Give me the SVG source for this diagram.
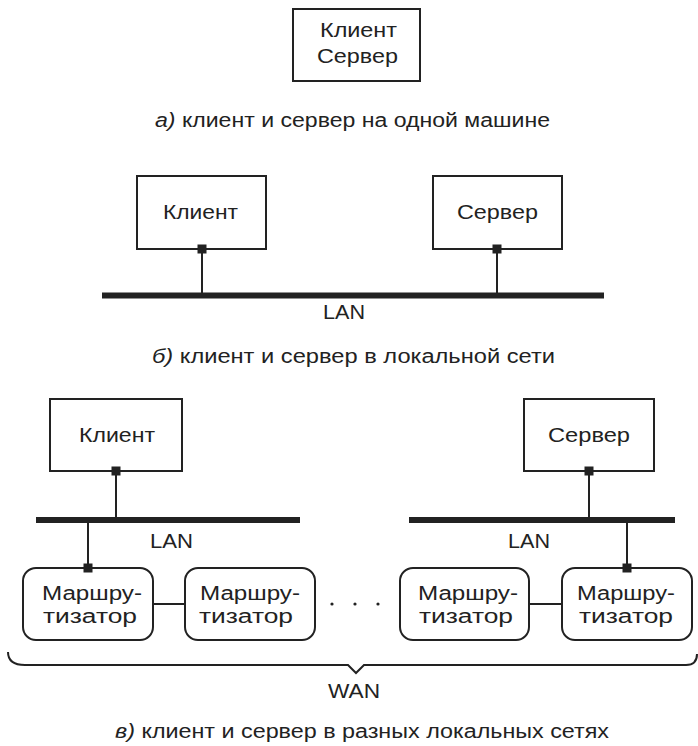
<svg xmlns="http://www.w3.org/2000/svg" width="698" height="746" viewBox="0 0 698 746">
<style>
text{font-family:"Liberation Sans",Arial,sans-serif;font-size:20px;fill:#222}
.it{font-style:italic}
.box{fill:#fff;stroke:#222;stroke-width:2}
.rt{fill:#fff;stroke:#222;stroke-width:2}
.ln{stroke:#222;stroke-width:2;fill:none}
.bus{stroke:#222;stroke-width:6;fill:none}
.pt{fill:#222}
</style>
<rect width="698" height="746" fill="#fff"/>
<!-- a -->
<g id="a-host">
<rect class="box" x="293" y="9" width="127" height="72"/>
<text x="320" y="37" textLength="77" lengthAdjust="spacingAndGlyphs">Клиент</text>
<text x="317" y="63" textLength="81" lengthAdjust="spacingAndGlyphs">Сервер</text>
</g>
<text x="155" y="126.5" textLength="395" lengthAdjust="spacingAndGlyphs"><tspan class="it">а)</tspan> клиент и сервер на одной машине</text>
<!-- b -->
<g id="b-client">
<rect class="box" x="137" y="176" width="129" height="73"/>
<text x="163" y="219" textLength="75" lengthAdjust="spacingAndGlyphs">Клиент</text>
</g>
<g id="b-server">
<rect class="box" x="433" y="176" width="129" height="73"/>
<text x="457" y="219" textLength="81" lengthAdjust="spacingAndGlyphs">Сервер</text>
</g>
<g id="b-lan">
<line class="bus" x1="102" y1="295.5" x2="604" y2="295.5"/>
<text x="323" y="319" textLength="42" lengthAdjust="spacingAndGlyphs">LAN</text>
</g>
<g id="b-connectors">
<line class="ln" x1="202" y1="249" x2="202" y2="295"/>
<line class="ln" x1="497" y1="249" x2="497" y2="295"/>
<rect class="pt" x="197.5" y="244.5" width="9" height="9"/>
<rect class="pt" x="492.5" y="244.5" width="9" height="9"/>
</g>
<text x="152" y="363" textLength="403" lengthAdjust="spacingAndGlyphs"><tspan class="it">б)</tspan> клиент и сервер в локальной сети</text>
<!-- c -->
<g id="c-client">
<rect class="box" x="50" y="399" width="132" height="72"/>
<text x="79" y="442" textLength="76" lengthAdjust="spacingAndGlyphs">Клиент</text>
</g>
<g id="c-server">
<rect class="box" x="524" y="399" width="130" height="72"/>
<text x="548" y="442" textLength="82" lengthAdjust="spacingAndGlyphs">Сервер</text>
</g>
<g id="c-lan1">
<line class="bus" x1="36" y1="520" x2="300" y2="520"/>
<text x="150" y="548" textLength="43" lengthAdjust="spacingAndGlyphs">LAN</text>
</g>
<g id="c-lan2">
<line class="bus" x1="409" y1="520" x2="675" y2="520"/>
<text x="508" y="548" textLength="42" lengthAdjust="spacingAndGlyphs">LAN</text>
</g>
<g id="router1">
<rect class="rt" x="23" y="568" width="130" height="72" rx="13"/>
<text x="42" y="600" textLength="100" lengthAdjust="spacingAndGlyphs">Маршру-</text>
<text x="43" y="623" textLength="94" lengthAdjust="spacingAndGlyphs">тизатор</text>
</g>
<g id="router2">
<rect class="rt" x="185" y="568" width="130" height="72" rx="13"/>
<text x="200" y="600" textLength="100" lengthAdjust="spacingAndGlyphs">Маршру-</text>
<text x="199" y="623" textLength="94" lengthAdjust="spacingAndGlyphs">тизатор</text>
</g>
<g id="router3">
<rect class="rt" x="400" y="568" width="129" height="72" rx="13"/>
<text x="418" y="600" textLength="100" lengthAdjust="spacingAndGlyphs">Маршру-</text>
<text x="419" y="623" textLength="94" lengthAdjust="spacingAndGlyphs">тизатор</text>
</g>
<g id="router4">
<rect class="rt" x="562" y="568" width="130" height="72" rx="13"/>
<text x="577" y="600" textLength="98" lengthAdjust="spacingAndGlyphs">Маршру-</text>
<text x="579" y="623" textLength="94" lengthAdjust="spacingAndGlyphs">тизатор</text>
</g>
<g id="c-connectors">
<line class="ln" x1="116" y1="471" x2="116" y2="520"/>
<line class="ln" x1="88" y1="520" x2="88" y2="568"/>
<line class="ln" x1="589" y1="471" x2="589" y2="520"/>
<line class="ln" x1="627" y1="520" x2="627" y2="568"/>
<line class="ln" x1="153" y1="604" x2="185" y2="604"/>
<line class="ln" x1="529" y1="604" x2="562" y2="604"/>
<rect class="pt" x="111.5" y="466.5" width="9" height="9"/>
<rect class="pt" x="83.5" y="563.5" width="9" height="9"/>
<rect class="pt" x="584.5" y="466.5" width="9" height="9"/>
<rect class="pt" x="622.5" y="563.5" width="9" height="9"/>
</g>
<g id="dots">
<circle class="pt" cx="332" cy="604" r="1.6"/>
<circle class="pt" cx="355" cy="604" r="1.6"/>
<circle class="pt" cx="378" cy="604" r="1.6"/>
</g>
<g id="wan">
<path class="ln" d="M8,652 Q8,665 25,665 L348,665 L356,673 L364,665 L686,665 Q697,665 697,654"/>
<text x="328" y="698" textLength="52" lengthAdjust="spacingAndGlyphs">WAN</text>
</g>
<text x="115" y="738" textLength="494" lengthAdjust="spacingAndGlyphs"><tspan class="it">в)</tspan> клиент и сервер в разных локальных сетях</text>
</svg>
